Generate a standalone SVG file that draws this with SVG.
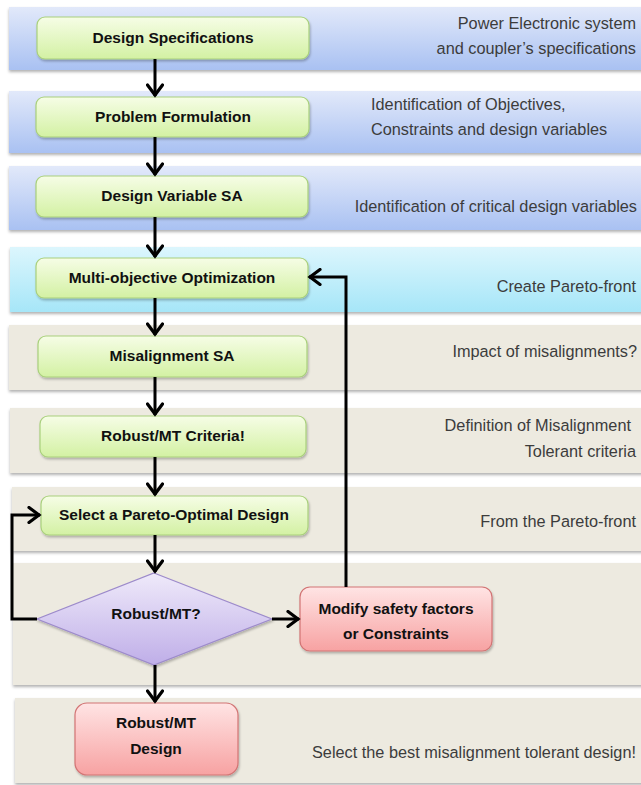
<svg xmlns="http://www.w3.org/2000/svg" width="641" height="785" viewBox="0 0 641 785">
<defs>
<linearGradient id="gBlue" x1="0" y1="0" x2="0" y2="1"><stop offset="0" stop-color="#e2e9fa"/><stop offset="1" stop-color="#a9c1f2"/></linearGradient>
<linearGradient id="gCyan" x1="0" y1="0" x2="0" y2="1"><stop offset="0" stop-color="#dcf6fd"/><stop offset="1" stop-color="#a6e6f8"/></linearGradient>
<linearGradient id="gGreen" x1="0" y1="0" x2="0" y2="1"><stop offset="0" stop-color="#f6fde6"/><stop offset="1" stop-color="#d3f1a3"/></linearGradient>
<linearGradient id="gPurple" x1="0" y1="0" x2="0" y2="1"><stop offset="0" stop-color="#efeafa"/><stop offset="1" stop-color="#bfaee8"/></linearGradient>
<linearGradient id="gRed" x1="0" y1="0" x2="0" y2="1"><stop offset="0" stop-color="#ffe4e4"/><stop offset="1" stop-color="#f7a2a2"/></linearGradient>
<filter id="sh" x="-5%" y="-10%" width="110%" height="130%"><feDropShadow dx="0" dy="2" stdDeviation="1.5" flood-color="#000" flood-opacity="0.3"/></filter>
<filter id="nsh" x="-5%" y="-10%" width="110%" height="130%"><feDropShadow dx="1" dy="2" stdDeviation="1.2" flood-color="#000" flood-opacity="0.25"/></filter>
<marker id="arr" markerUnits="userSpaceOnUse" markerWidth="16" markerHeight="18" viewBox="0 0 16 18" refX="13.5" refY="9" orient="auto">
<path d="M2.5,1.5 L12.5,9 L2.5,16.5" fill="none" stroke="#000" stroke-width="3.2" stroke-linecap="round" stroke-linejoin="miter"/>
</marker>
</defs>
<style>
.band{filter:url(#sh);}
.blue{fill:url(#gBlue);}
.cyan{fill:url(#gCyan);}
.beige{fill:#edeae0;}
.node{fill:url(#gGreen);stroke:#a9d07c;stroke-width:1.2;filter:url(#nsh);}
.dia{fill:url(#gPurple);stroke:#9d8bcb;stroke-width:1.2;filter:url(#nsh);}
.red{fill:url(#gRed);stroke:#d27474;stroke-width:1.2;filter:url(#nsh);}
.nt{font-family:"Liberation Sans",Arial,sans-serif;font-weight:bold;font-size:15.5px;fill:#111;text-anchor:middle;}
.rt{font-family:"Liberation Sans",Arial,sans-serif;font-size:16.3px;fill:#3c3c3c;}
.end{text-anchor:end;}
.con{fill:none;stroke:#000;stroke-width:3;marker-end:url(#arr);}
</style>
<rect width="641" height="785" fill="#ffffff"/>
<g id="bands">
<rect class="band blue" x="9" y="7" width="640" height="63"/>
<rect class="band blue" x="9" y="91" width="640" height="62"/>
<rect class="band blue" x="9" y="166" width="640" height="64"/>
<rect class="band cyan" x="10" y="247" width="640" height="65"/>
<rect class="band beige" x="9" y="325" width="640" height="65"/>
<rect class="band beige" x="10" y="408" width="640" height="65"/>
<rect class="band beige" x="12" y="487" width="640" height="64"/>
<rect class="band beige" x="13" y="563" width="640" height="122"/>
<rect class="band beige" x="15" y="698" width="640" height="85"/>
</g>
<g id="side-texts">
<text class="rt end" x="636" y="29">Power Electronic system</text>
<text class="rt end" x="636" y="54">and coupler’s specifications</text>
<text class="rt" x="371" y="110">Identification of Objectives,</text>
<text class="rt" x="371" y="135">Constraints and design variables</text>
<text class="rt end" x="637" y="212">Identification of critical design variables</text>
<text class="rt end" x="636" y="292">Create Pareto-front</text>
<text class="rt end" x="637" y="357">Impact of misalignments?</text>
<text class="rt end" x="631" y="431">Definition of Misalignment</text>
<text class="rt end" x="636" y="457">Tolerant criteria</text>
<text class="rt end" x="636" y="527">From the Pareto-front</text>
<text class="rt end" x="636" y="758">Select the best misalignment tolerant design!</text>
</g>
<g id="n1"><rect class="node" x="37" y="17" width="272" height="42" rx="8"/><text class="nt" x="173" y="43">Design Specifications</text></g>
<g id="n2"><rect class="node" x="36" y="97" width="273" height="40" rx="8"/><text class="nt" x="173" y="122">Problem Formulation</text></g>
<g id="n3"><rect class="node" x="36" y="176" width="272" height="41" rx="8"/><text class="nt" x="172" y="201">Design Variable SA</text></g>
<g id="n4"><rect class="node" x="36" y="258" width="272" height="40" rx="8"/><text class="nt" x="172" y="283">Multi-objective Optimization</text></g>
<g id="n5"><rect class="node" x="38" y="336" width="269" height="41" rx="8"/><text class="nt" x="172" y="361">Misalignment SA</text></g>
<g id="n6"><rect class="node" x="40" y="416" width="266" height="41" rx="8"/><text class="nt" x="173" y="441">Robust/MT Criteria!</text></g>
<g id="n7"><rect class="node" x="41" y="496" width="267" height="39" rx="8"/><text class="nt" x="174" y="520">Select a Pareto-Optimal Design</text></g>
<g id="n8"><polygon class="dia" points="154,573 272,619 154,665 37,619"/><text class="nt" x="156" y="619">Robust/MT?</text></g>
<g id="n9"><rect class="red" x="300" y="587" width="192" height="64" rx="10"/><text class="nt" x="396" y="614">Modify safety factors</text><text class="nt" x="396" y="639">or Constraints</text></g>
<g id="n10"><rect class="red" x="75" y="703" width="163" height="72" rx="12"/><text class="nt" x="156" y="728">Robust/MT</text><text class="nt" x="156" y="754">Design</text></g>
<g id="connectors">
<line class="con" x1="155" y1="59" x2="155" y2="96"/>
<line class="con" x1="155" y1="137" x2="155" y2="175"/>
<line class="con" x1="155" y1="217" x2="155" y2="257"/>
<line class="con" x1="155" y1="298" x2="155" y2="335"/>
<line class="con" x1="155" y1="377" x2="155" y2="415"/>
<line class="con" x1="155" y1="457" x2="155" y2="495"/>
<line class="con" x1="155" y1="535" x2="155" y2="572"/>
<line class="con" x1="155" y1="665" x2="155" y2="702"/>
<line class="con" x1="272" y1="619" x2="299" y2="619"/>
<polyline class="con" points="346,587 346,277 309,277"/>
<polyline class="con" points="37,619 12,619 12,515 40,515"/>
</g>
</svg>
